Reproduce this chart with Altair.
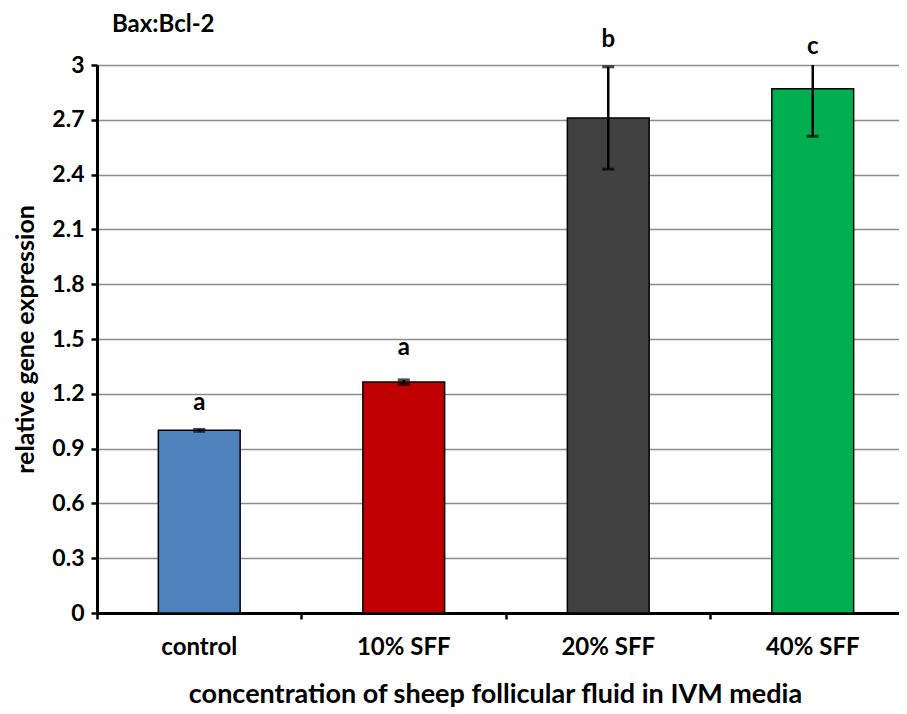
import altair as alt
import pandas as pd

categories = ["control", "10% SFF", "20% SFF", "40% SFF"]
values = [1.0, 1.264, 2.71, 2.87]
errors = [0.005, 0.012, 0.28, 0.26]
letters = ["a", "a", "b", "c"]
letter_y = [1.15, 1.45, 3.135, 3.10]
colors = ["#4F81BD", "#C00000", "#404040", "#00B050"]
y_ticks = [0, 0.3, 0.6, 0.9, 1.2, 1.5, 1.8, 2.1, 2.4, 2.7, 3.0]

df = pd.DataFrame({
    "cat": categories,
    "val": values,
    "lo": [v - e for v, e in zip(values, errors)],
    "hi": [v + e for v, e in zip(values, errors)],
    "letter": letters,
    "ly": letter_y,
})

FONT = "Lato"
xscale = alt.Scale(domain=categories, paddingInner=0.6, paddingOuter=0.3, range=[0, 818])

x = alt.X("cat:N", sort=categories, scale=xscale,
          axis=alt.Axis(title="concentration of sheep follicular fluid in IVM media",
                        labelAngle=0, bandPosition=-0.75, domainWidth=3, domainColor="black",
                        tickColor="black", tickWidth=2.5, tickSize=6,
                        labelFont=FONT, labelFontWeight="bold", labelFontSize=24,
                        labelColor="black", labelPadding=16,
                        titleFont=FONT, titleFontWeight="bold", titleFontSize=27,
                        titleColor="black", titlePadding=22, titleX=398, titleAlign="center",
                        grid=False))

yscale = alt.Scale(domain=[0, 3], nice=False)

bars = alt.Chart(df).mark_bar(stroke="black", strokeWidth=1.5).encode(
    x=x,
    y=alt.Y("val:Q", scale=yscale,
            axis=alt.Axis(title="relative gene expression", values=y_ticks, format="~g",
                          domainWidth=3, domainColor="black", tickColor="black",
                          tickWidth=2.5, tickSize=6, grid=True, gridColor="#8c8c8c",
                          gridWidth=1.5, labelFont=FONT, labelFontWeight="bold",
                          labelFontSize=23, labelColor="black", labelPadding=7,
                          titleFont=FONT, titleFontWeight="bold", titleFontSize=25,
                          titleColor="black", titlePadding=13)),
    color=alt.Color("cat:N", sort=categories,
                    scale=alt.Scale(domain=categories, range=colors), legend=None),
)

xe = alt.X("cat:N", sort=categories, scale=xscale)

err = alt.Chart(df).mark_rule(color="black", strokeWidth=2.5, clip=True).encode(
    x=xe, y=alt.Y("lo:Q", scale=yscale), y2="hi:Q")

cap_lo = alt.Chart(df).mark_tick(color="black", thickness=3, size=12, clip=True).encode(
    x=xe, y=alt.Y("lo:Q", scale=yscale))
cap_hi = alt.Chart(df).mark_tick(color="black", thickness=3, size=12, clip=True).encode(
    x=xe, y=alt.Y("hi:Q", scale=yscale))

text = alt.Chart(df).mark_text(font=FONT, fontWeight="bold", fontSize=24, color="black",
                               baseline="middle").encode(
    x=xe, y=alt.Y("ly:Q", scale=yscale), text="letter:N")

chart = alt.layer(bars, err, cap_lo, cap_hi, text).properties(
    width=802, height=548,
    autosize=alt.AutoSizeParams(type="none"),
    padding={"left": 89, "top": 57, "right": 0, "bottom": 97},
    title=alt.TitleParams("Bax:Bcl-2", anchor="start", frame="group", dx=15, dy=9, offset=0,
                          font=FONT, fontWeight="bold", fontSize=24, color="black"),
).configure_view(stroke=None)

chart.save("out.html", embed_options={"renderer": "svg", "actions": False})
